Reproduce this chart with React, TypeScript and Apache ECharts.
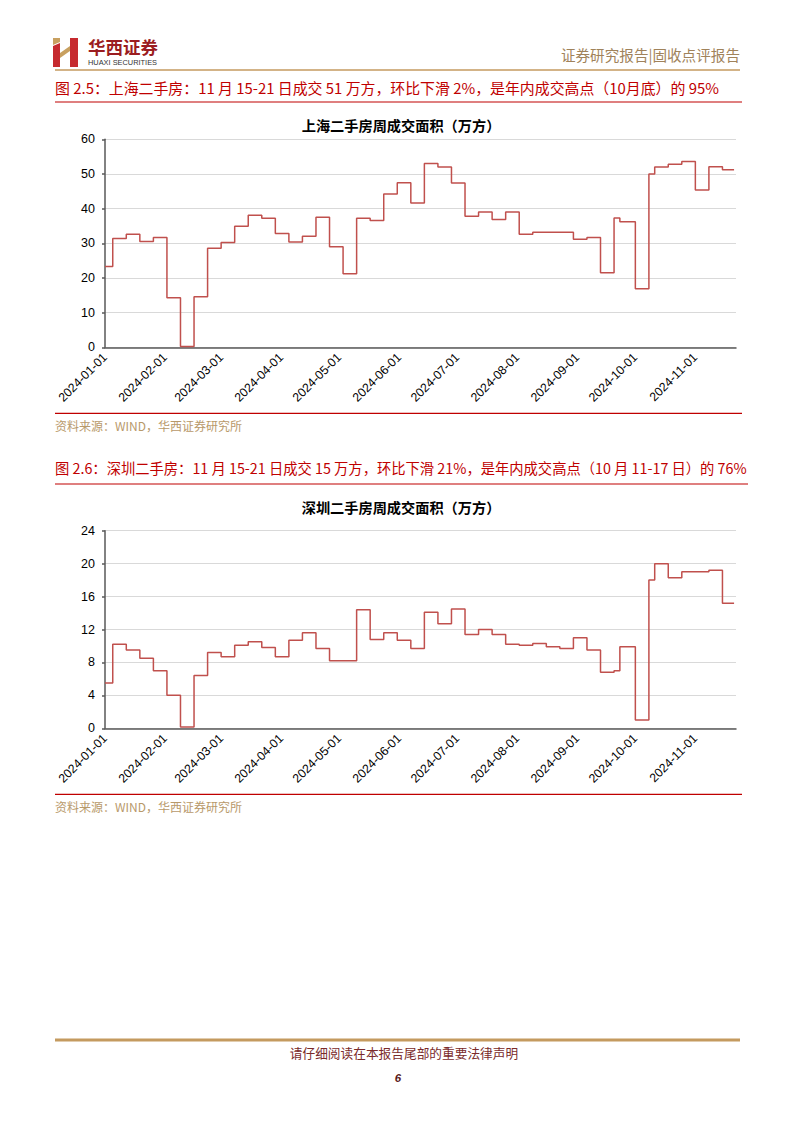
import React, { useEffect, useRef } from "react";
import * as echarts from "echarts";

// Period start dates (weekly, Fri–Thu; irregular around holidays), last entry = data end date
const periodStarts = [
  "2024-01-01", "2024-01-05", "2024-01-12", "2024-01-19", "2024-01-26",
  "2024-02-02", "2024-02-09", "2024-02-16", "2024-02-23",
  "2024-03-01", "2024-03-08", "2024-03-15", "2024-03-22", "2024-03-29",
  "2024-04-05", "2024-04-12", "2024-04-19", "2024-04-26",
  "2024-05-03", "2024-05-10", "2024-05-17", "2024-05-24", "2024-05-31",
  "2024-06-07", "2024-06-14", "2024-06-21", "2024-06-28",
  "2024-07-05", "2024-07-12", "2024-07-19", "2024-07-26",
  "2024-08-02", "2024-08-09", "2024-08-16", "2024-08-23", "2024-08-30",
  "2024-09-06", "2024-09-13", "2024-09-20", "2024-09-23",
  "2024-10-01", "2024-10-08", "2024-10-11", "2024-10-18", "2024-10-25",
  "2024-11-01", "2024-11-08", "2024-11-15", "2024-11-21",
];

// 上海二手房周成交面积（万方）
const shanghaiValues = [
  23.3, 31.4, 32.6, 30.5, 31.7,
  14.3, 0.2, 14.6, 28.6,
  30.2, 34.9, 38.1, 37.2, 32.8,
  30.4, 32.0, 37.5, 29.0,
  21.2, 37.2, 36.6, 44.2, 47.5,
  41.6, 53.0, 52.0, 47.4,
  37.8, 39.0, 36.9, 39.0,
  32.6, 33.2, 33.2, 33.2, 31.2,
  31.7, 21.5, 37.3, 36.2,
  16.9, 50.0, 52.0, 52.8, 53.6,
  45.4, 52.1, 51.2, 51.2,
];

// 深圳二手房周成交面积（万方）
const shenzhenValues = [
  5.5, 10.2, 9.5, 8.5, 7.0,
  4.0, 0.15, 6.4, 9.2,
  8.7, 10.1, 10.5, 9.8, 8.7,
  10.7, 11.6, 9.7, 8.2,
  8.2, 14.4, 10.8, 11.6, 10.7,
  9.7, 14.1, 12.7, 14.5,
  11.4, 12.0, 11.4, 10.2,
  10.1, 10.3, 9.9, 9.7, 11.0,
  9.5, 6.8, 7.0, 9.9,
  1.0, 18.0, 20.0, 18.3, 19.0,
  19.0, 19.2, 15.2, 15.2,
];

const monthTicks = [
  "2024-01-01", "2024-02-01", "2024-03-01", "2024-04-01", "2024-05-01", "2024-06-01",
  "2024-07-01", "2024-08-01", "2024-09-01", "2024-10-01", "2024-11-01",
];
const xStart = "2024-01-01";
const xEnd = "2024-11-22";

const shanghaiTitle = "上海二手房周成交面积（万方）";
const shenzhenTitle = "深圳二手房周成交面积（万方）";
const figTitle1 = "图 2.5：上海二手房：11 月 15-21 日成交 51 万方，环比下滑 2%，是年内成交高点（10月底）的 95%";
const figTitle2 = "图 2.6：深圳二手房：11 月 15-21 日成交 15 万方，环比下滑 21%，是年内成交高点（10 月 11-17 日）的 76%";
const sourceText = "资料来源：WIND，华西证券研究所";

function ts(s: string): number {
  const [y, m, d] = s.split("-").map(Number);
  return new Date(y, m - 1, d).getTime();
}
function pad(n: number) {
  return n < 10 ? "0" + n : "" + n;
}
function fmtDate(v: number) {
  const d = new Date(v);
  return `${d.getFullYear()}-${pad(d.getMonth() + 1)}-${pad(d.getDate())}`;
}

const CJK = "'Noto Sans CJK SC', sans-serif";
const LAT = "'Liberation Sans', Arial, sans-serif";
const RED = "#c00000";
const GOLD = "#c49a5f";
const LINE = "#c0504d";

function xAxisFor(gridIndex: number) {
  return {
    type: "value",
    gridIndex,
    min: ts(xStart),
    max: ts(xEnd),
    axisLine: { show: true, lineStyle: { color: "#595959", width: 1.5 } },
    axisTick: { show: false },
    splitLine: { show: false },
    axisLabel: {
      customValues: monthTicks.map(ts),
      formatter: (v: number) => fmtDate(v),
      rotate: 45,
      margin: 8,
      fontSize: 12.3,
      color: "#000",
      fontFamily: LAT,
      hideOverlap: false,
    },
  };
}

function yAxisFor(gridIndex: number, max: number, interval: number) {
  return {
    type: "value",
    gridIndex,
    min: 0,
    max,
    interval,
    axisLine: { show: true, lineStyle: { color: "#595959", width: 1.5 } },
    axisTick: { show: true, length: 3, lineStyle: { color: "#595959", width: 1.5 } },
    splitLine: { show: true, lineStyle: { color: "#d9d9d9", width: 1 } },
    axisLabel: { fontSize: 12.5, color: "#000", fontFamily: LAT, margin: 10 },
  };
}

function hline(x1: number, x2: number, y: number, color: string, w: number) {
  return { type: "line", shape: { x1, y1: y, x2, y2: y }, style: { stroke: color, lineWidth: w } };
}
function txt(x: number, y: number, text: string, opts: any) {
  return {
    type: "text",
    x,
    y,
    style: { text, verticalAlign: "middle", align: "left", ...opts },
  };
}

export default function App() {
  const ref = useRef<HTMLDivElement>(null);
  useEffect(() => {
    const chart = echarts.init(ref.current!, null, { renderer: "svg" });
    const option: any = {
      animation: false,
      backgroundColor: "#fff",
      grid: [
        { left: 105, right: 66, top: 139.3, bottom: 1133 - 347.3, containLabel: false },
        { left: 105, right: 66, top: 530.7, bottom: 1133 - 728.3, containLabel: false },
      ],
      xAxis: [xAxisFor(0), xAxisFor(1)],
      yAxis: [yAxisFor(0, 60, 10), yAxisFor(1, 24, 4)],
      series: [
        {
          type: "line",
          xAxisIndex: 0,
          yAxisIndex: 0,
          step: "end",
          showSymbol: false,
          lineStyle: { color: LINE, width: 1.5 },
          itemStyle: { color: LINE },
          data: periodStarts.map((d, i) => [ts(d), shanghaiValues[i]]),
        },
        {
          type: "line",
          xAxisIndex: 1,
          yAxisIndex: 1,
          step: "end",
          showSymbol: false,
          lineStyle: { color: LINE, width: 1.5 },
          itemStyle: { color: LINE },
          data: periodStarts.map((d, i) => [ts(d), shenzhenValues[i]]),
        },
      ],
      graphic: [
        // logo icon
        { type: "polygon", shape: { points: [[53, 46], [60, 43], [60, 67], [53, 67]] }, style: { fill: "#c62a2f" } },
        { type: "polygon", shape: { points: [[53, 38], [60, 38], [60, 42], [53, 45]] }, style: { fill: "#c8a060" } },
        { type: "polygon", shape: { points: [[60, 53], [70, 46], [70, 51], [60, 58]] }, style: { fill: "#c8a060" } },
        { type: "polygon", shape: { points: [[70, 38], [78, 38], [78, 67], [70, 67]] }, style: { fill: "#c62a2f" } },
        txt(88, 46, "华西证券", { fill: "#9b1c20", fontSize: 17.5, fontWeight: "bold", fontFamily: CJK }),
        txt(88, 62.5, "HUAXI SECURITIES", { fill: "#333", fontSize: 7.4, fontFamily: LAT }),
        txt(740, 54, "证券研究报告|固收点评报告", { fill: "#a0825a", fontSize: 14.6, fontFamily: CJK, align: "right" }),
        hline(55, 740, 70, GOLD, 1.5),
        // figure 1
        txt(55, 87, figTitle1, { fill: RED, fontSize: 14.9, fontFamily: CJK }),
        hline(55, 742, 102, RED, 1.2),
        txt(401, 125, shanghaiTitle, { fill: "#000", fontSize: 14.2, fontWeight: "bold", fontFamily: CJK, align: "center" }),
        hline(55, 742, 413.3, RED, 1.2),
        txt(55, 425, sourceText, { fill: "#b8996a", fontSize: 12, fontFamily: CJK }),
        // figure 2
        txt(55, 467, figTitle2, { fill: RED, fontSize: 14.3, fontFamily: CJK }),
        hline(55, 748, 484, RED, 1.2),
        txt(401, 507, shenzhenTitle, { fill: "#000", fontSize: 14.2, fontWeight: "bold", fontFamily: CJK, align: "center" }),
        hline(55, 742, 794.3, RED, 1.2),
        txt(55, 806, sourceText, { fill: "#b8996a", fontSize: 12, fontFamily: CJK }),
        // footer
        hline(55, 740, 1040, GOLD, 3),
        txt(404, 1052, "请仔细阅读在本报告尾部的重要法律声明", { fill: "#7a2a2a", fontSize: 12.7, fontFamily: CJK, align: "center" }),
        txt(398, 1078, "6", { fill: "#5a1a1a", fontSize: 11.5, fontWeight: "bold", fontStyle: "italic", fontFamily: LAT, align: "center" }),
      ],
    };
    chart.setOption(option);
    return () => chart.dispose();
  }, []);
  return (
    <div
      ref={ref}
      style={{ position: "absolute", left: 0, top: 0, width: 802, height: 1133, background: "#fff" }}
    />
  );
}
